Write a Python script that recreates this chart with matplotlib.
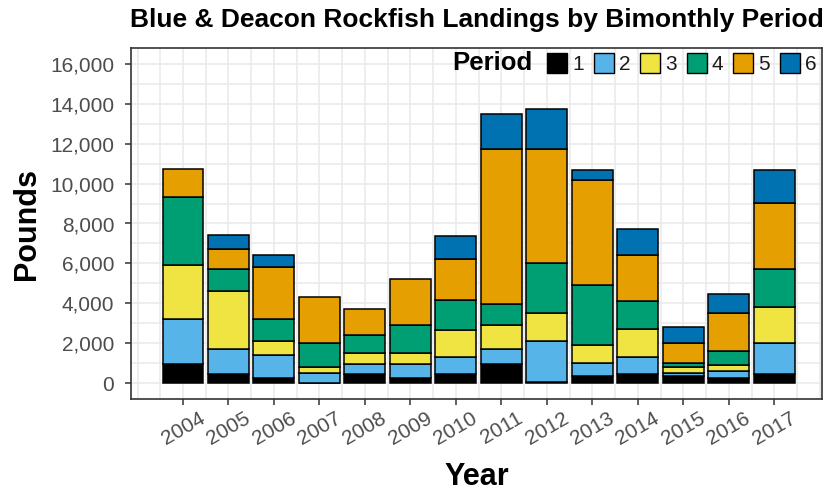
import matplotlib
matplotlib.use("Agg")
import matplotlib.pyplot as plt
from matplotlib.patches import Rectangle
from matplotlib.ticker import MultipleLocator, FuncFormatter
import numpy as np

years = ["2004", "2005", "2006", "2007", "2008", "2009", "2010",
         "2011", "2012", "2013", "2014", "2015", "2016", "2017"]
periods = ["1", "2", "3", "4", "5", "6"]
p1 = [930, 430, 230, 20, 430, 260, 430, 930, 60, 340, 430, 340, 230, 430]
p2 = [2290, 1290, 1160, 490, 500, 670, 880, 800, 2040, 670, 880, 170, 360, 1590]
p3 = [2710, 2920, 710, 280, 580, 580, 1340, 1190, 1420, 890, 1410, 300, 320, 1780]
p4 = [3410, 1100, 1120, 1230, 890, 1410, 1490, 1020, 2510, 3040, 1380, 200, 690, 1930]
p5 = [1400, 990, 2610, 2300, 1320, 2320, 2090, 7810, 5720, 5220, 2310, 1010, 1920, 3310]
p6 = [0, 680, 580, 0, 0, 0, 1120, 1720, 2000, 500, 1320, 800, 920, 1630]
series = [p1, p2, p3, p4, p5, p6]
colors = ["#000000", "#56B4E9", "#F0E442", "#009E73", "#E69F00", "#0072B2"]

plt.rcParams['font.family'] = ['Liberation Sans', 'DejaVu Sans']

W, H = 824, 498
fig = plt.figure(figsize=(W / 100, H / 100), dpi=100)
L, R, T, B = 131, 822, 48, 399
ax = fig.add_axes([L / W, 1 - B / H, (R - L) / W, (B - T) / H])

x = np.arange(len(years))
bottom = np.zeros(len(years))
for vals, c in zip(series, colors):
    v = np.array(vals, dtype=float)
    mask = v > 0
    ax.bar(x[mask], v[mask], bottom=bottom[mask], width=0.9, color=c,
           edgecolor="black", linewidth=1.1, zorder=3)
    bottom += v

ax.set_xticks(x)
ax.set_xticklabels(years, rotation=30, ha="center", va="top")
ax.set_xticks(np.arange(-1.0, 14.1, 0.5), minor=True)
ax.yaxis.set_major_locator(MultipleLocator(2000))
ax.yaxis.set_minor_locator(MultipleLocator(1000))
ax.yaxis.set_major_formatter(FuncFormatter(lambda v, p: f"{int(v):,}"))
ax.set_xlim(-1.143, 14.05)
ax.set_ylim(-800, 16800)

ax.grid(True, which="both", color="#EBEBEB", linewidth=1.2, zorder=0)
ax.set_axisbelow(True)
for s in ax.spines.values():
    s.set_color("#333333")
    s.set_linewidth(1.2)
ax.tick_params(axis="y", which="major", pad=8)
ax.tick_params(axis="x", which="major", pad=3)
ax.tick_params(axis="both", which="major", labelsize=15, labelcolor="#4D4D4D",
               color="#333333", length=4, width=1.1)
ax.tick_params(axis="both", which="minor", length=0)

ax.set_ylabel("Pounds", fontsize=22, fontweight="bold", labelpad=6)
ax.set_xlabel("Year", fontsize=22, fontweight="bold", labelpad=10)
ax.set_title("Blue & Deacon Rockfish Landings by Bimonthly Period",
             fontsize=19, fontweight="bold", pad=15)

# legend (inside, top right)
def px(xp, yp):
    return xp / W, 1 - yp / H

fig.text(*px(452, 63), "Period", fontsize=18.5, fontweight="bold",
         ha="left", va="center", color="#000000")
key_x = [547, 593.5, 640, 686.5, 733, 779.5]
for kx, c, lab in zip(key_x, colors, periods):
    x0, y0 = px(kx, 73)
    fig.patches.append(Rectangle((x0, y0), 20 / W, 20 / H, transform=fig.transFigure,
                                 facecolor=c, edgecolor="black", linewidth=1.0,
                                 zorder=5))
    fig.text(*px(kx + 25, 64), lab, fontsize=15, ha="left", va="center",
             color="#1a1a1a")

fig.savefig("out.png", dpi=100)
